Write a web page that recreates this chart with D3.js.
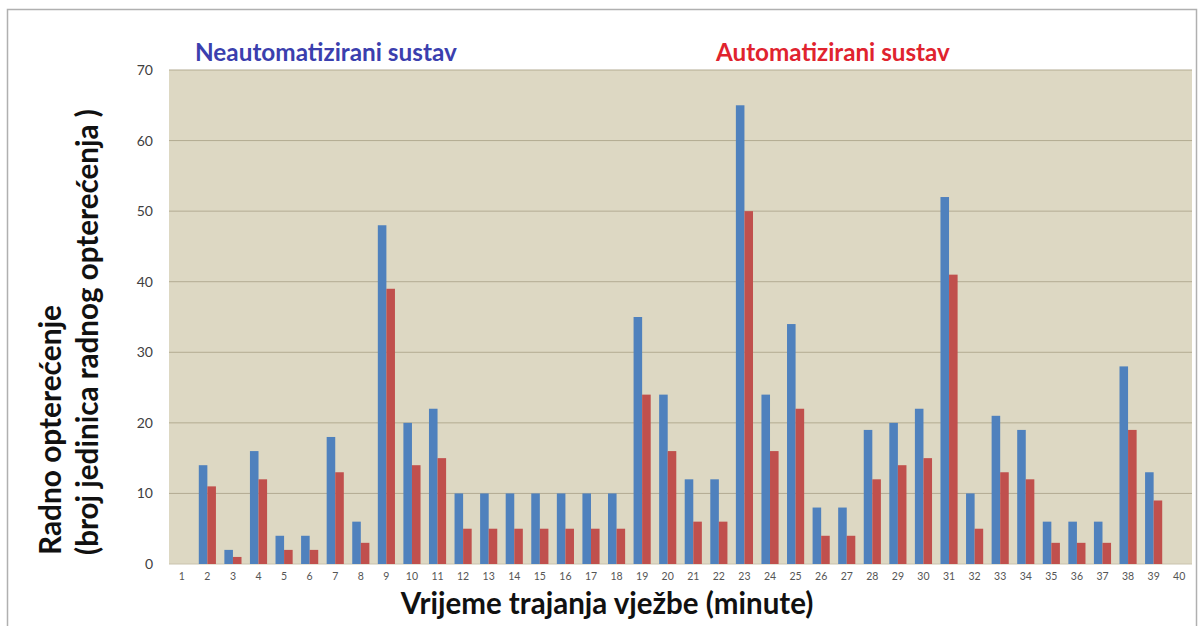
<!DOCTYPE html>
<html><head><meta charset="utf-8">
<script src="https://cdn.jsdelivr.net/npm/d3@7"></script>
<style>body{margin:0;background:#fff;}svg{display:block;font-family:Lato,Calibri,Carlito,"Open Sans",sans-serif;}</style>
</head><body>
<svg id="c" width="1201" height="626"></svg>
<script>
const categories = d3.range(1, 41).map(String);
const neautomatizirani = [0,14,2,16,4,4,18,6,48,20,22,10,10,10,10,10,10,10,35,24,12,12,65,24,34,8,8,19,20,22,52,10,21,19,6,6,6,28,13,0];
const automatizirani   = [0,11,1,12,2,2,13,3,39,14,15,5,5,5,5,5,5,5,24,16,6,6,50,16,22,4,4,12,14,15,41,5,13,12,3,3,3,19,9,0];
const yTicks = [0,10,20,30,40,50,60,70];
const seriesNames = ["Neautomatizirani sustav","Automatizirani sustav"];
const seriesColors = ["#4f81bd","#c0504d"];
const titleColors = ["#3b3fae","#e0232e"];

const svg = d3.select("#c");
const m = {l:169, r:1192, t:70, b:564};

function fit(sel, target) {
  const w = sel.node().getComputedTextLength();
  const fs = parseFloat(sel.attr("font-size"));
  sel.attr("font-size", (fs * target / w).toFixed(2));
  return sel;
}

svg.append("rect").attr("x",7.5).attr("y",9.5).attr("width",1189).attr("height",640)
  .attr("fill","#fff").attr("stroke","#b0b0b0").attr("stroke-width",1.5);

const x = d3.scaleBand().domain(categories).range([m.l, m.r]).paddingInner(0.33).paddingOuter(0.165);
const xs = d3.scaleBand().domain([0,1]).range([0, x.bandwidth()]);
const y = d3.scaleLinear().domain([0,70]).range([m.b, m.t]);

svg.append("rect").attr("x",m.l).attr("y",m.t).attr("width",m.r-m.l).attr("height",m.b-m.t).attr("fill","#ddd8c3");

svg.append("g").selectAll("line").data(yTicks).join("line")
  .attr("x1",m.l).attr("x2",m.r).attr("y1",d=>y(d)).attr("y2",d=>y(d))
  .attr("stroke",d=>d===0?"#c9c3ad":"#b3ab92").attr("stroke-width",1);

const yAxis = svg.append("g").attr("transform",`translate(${m.l},0)`)
  .call(d3.axisLeft(y).tickValues(yTicks).tickSize(0).tickPadding(16));
yAxis.select(".domain").remove();
yAxis.selectAll("text").attr("font-size",14).attr("fill","#404040").attr("font-family","Lato,Calibri,sans-serif");

const xAxis = svg.append("g").attr("transform",`translate(0,${m.b})`)
  .call(d3.axisBottom(x).tickSize(0).tickPadding(9));
xAxis.select(".domain").remove();
xAxis.selectAll("text").attr("font-size",10.5).attr("fill","#555").attr("font-family","Lato,Calibri,sans-serif");

const data = [neautomatizirani, automatizirani];
data.forEach((vals, si) => {
  svg.append("g").selectAll("rect").data(vals).join("rect")
    .attr("x",(d,i)=>x(categories[i]) + xs(si))
    .attr("width",xs.bandwidth())
    .attr("y",d=>y(d))
    .attr("height",d=>y(0)-y(d))
    .attr("fill",seriesColors[si]);
});

fit(svg.append("text").attr("x",195).attr("y",61).attr("font-size",20).attr("font-weight","bold")
  .attr("fill",titleColors[0]).text(seriesNames[0]), 262);
fit(svg.append("text").attr("x",716).attr("y",61).attr("font-size",20).attr("font-weight","bold")
  .attr("fill",titleColors[1]).text(seriesNames[1]), 234);

fit(svg.append("text").attr("x",607).attr("y",614).attr("text-anchor","middle").attr("font-size",25)
  .attr("font-weight","bold").attr("fill","#111").text("Vrijeme trajanja vježbe (minute)"), 413);

fit(svg.append("text").attr("transform","translate(61,555) rotate(-90)").attr("font-size",22)
  .attr("font-weight","bold").attr("fill","#111").text("Radno opterećenje"), 250);
fit(svg.append("text").attr("transform","translate(98,555) rotate(-90)").attr("font-size",22)
  .attr("font-weight","bold").attr("fill","#111").text("(broj jedinica radnog opterećenja )"), 446);
</script>
</body></html>
